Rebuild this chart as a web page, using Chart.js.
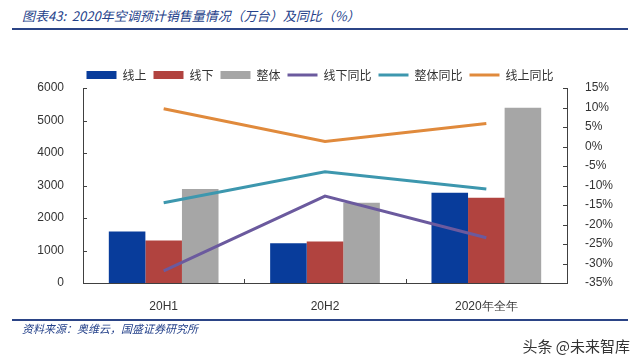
<!DOCTYPE html>
<html>
<head>
<meta charset="utf-8">
<script src="https://cdn.jsdelivr.net/npm/chart.js@4.4.0/dist/chart.umd.min.js"></script>
<style>
  body { margin: 0; background: #fff; }
  #wrap { position: relative; width: 640px; height: 357px; overflow: hidden; font-family: "Noto Sans CJK SC", sans-serif; }
  #c { position: absolute; left: 0; top: 0; }
  .title { position: absolute; left: 22px; top: 6px; font-size: 13px; font-style: italic; color: #24418a; white-space: nowrap; }
  .rule { position: absolute; left: 12px; width: 616px; height: 2px; background: #2b4486; }
  .src { position: absolute; left: 22px; top: 320px; font-size: 11px; font-style: italic; color: #24418a; white-space: nowrap; }
  .mark { position: absolute; right: 10px; top: 335px; font-size: 15px; color: #333; white-space: nowrap; }
</style>
</head>
<body>
<div id="wrap">
  <div class="title">图表43:&nbsp; 2020年空调预计销售量情况（万台）及同比（%）</div>
  <div class="rule" style="top:28px"></div>
  <canvas id="c" width="640" height="357"></canvas>
  <div class="rule" style="top:319px"></div>
  <div class="src">资料来源：奥维云，国盛证券研究所</div>
  <div class="mark">头条 @未来智库</div>
</div>
<script>
// data (万台 / %)
const categories = ["20H1", "20H2", "2020年全年"];
const online = [1585, 1220, 2775];
const offline = [1310, 1280, 2620];
const total = [2895, 2470, 5395];
const offlineYoY = [-31.9, -12.7, -23.4];
const totalYoY = [-14.4, -6.5, -10.9];
const onlineYoY = [9.7, 1.3, 5.9];
const leftTicks = [0, 1000, 2000, 3000, 4000, 5000, 6000];
const rightTicks = [-35, -30, -25, -20, -15, -10, -5, 0, 5, 10, 15];

const axisColor = "#404040";
const tickFont = { family: "Liberation Sans", size: 12 };

// push the chart area up under the legend
const legendHeight = {
    id: "legendHeight",
    beforeInit(chart) {
        const fit = chart.legend.fit;
        chart.legend.fit = function () {
            fit.bind(chart.legend)();
            this.height = 26;
        };
    }
};

// short inward tick marks like the original
const innerTicks = {
    id: "innerTicks",
    afterDraw(chart) {
        const { ctx, chartArea, scales } = chart;
        ctx.save();
        ctx.strokeStyle = axisColor;
        ctx.lineWidth = 1;
        ctx.beginPath();
        scales.y.ticks.forEach(t => {
            let py = Math.round(scales.y.getPixelForValue(t.value)) + 0.5;
            ctx.moveTo(chartArea.left, py);
            ctx.lineTo(chartArea.left + 4, py);
        });
        scales.y1.ticks.forEach(t => {
            let py = Math.round(scales.y1.getPixelForValue(t.value)) + 0.5;
            ctx.moveTo(chartArea.right, py);
            ctx.lineTo(chartArea.right - 4, py);
        });
        let step = (chartArea.right - chartArea.left) / categories.length;
        for (let i = 1; i < categories.length; i++) {
            let px = Math.round(chartArea.left + step * i) + 0.5;
            ctx.moveTo(px, chartArea.bottom);
            ctx.lineTo(px, chartArea.bottom - 4);
        }
        ctx.stroke();
        ctx.restore();
    }
};

function barSet(label, data, color) {
    return {
        type: "bar", label: label, data: data, yAxisID: "y",
        backgroundColor: color, borderWidth: 0, pointStyle: "rect",
        categoryPercentage: 0.68, barPercentage: 1.0, order: 1
    };
}
function lineSet(label, data, color) {
    return {
        type: "line", label: label, data: data, yAxisID: "y1",
        borderColor: color, backgroundColor: color, borderWidth: 3,
        pointRadius: 0, pointStyle: "line", tension: 0, order: 0
    };
}

var option = {
    data: {
        labels: categories,
        datasets: [
            barSet("线上", online, "#083c9b"),
            barSet("线下", offline, "#b1433f"),
            barSet("整体", total, "#a6a6a6"),
            lineSet("线下同比", offlineYoY, "#6b5a9e"),
            lineSet("整体同比", totalYoY, "#3d97ae"),
            lineSet("线上同比", onlineYoY, "#e08a3c")
        ]
    },
    options: {
        responsive: false,
        animation: false,
        layout: { padding: { top: 62, left: 0, right: 0, bottom: 0 } },
        plugins: {
            tooltip: { enabled: false },
            legend: {
                position: "top",
                labels: {
                    usePointStyle: true,
                    pointStyleWidth: 30,
                    boxHeight: 8,
                    padding: 7,
                    color: "#333",
                    font: { family: "Noto Sans CJK SC", size: 12 },
                    sort: (a, b) => a.datasetIndex - b.datasetIndex
                }
            }
        },
        scales: {
            x: {
                grid: { display: false },
                border: { display: true, color: axisColor },
                ticks: { color: "#333", font: tickFont, padding: 8 },
                afterFit: s => { s.height = 74; }
            },
            y: {
                position: "left",
                min: 0, max: 6000,
                afterBuildTicks: s => { s.ticks = leftTicks.map(v => ({ value: v })); },
                grid: { display: false },
                border: { display: true, color: axisColor },
                ticks: { color: "#333", font: tickFont, padding: 11, callback: v => String(v) },
                afterFit: s => { s.width = 83; }
            },
            y1: {
                position: "right",
                min: -35, max: 15,
                afterBuildTicks: s => { s.ticks = rightTicks.map(v => ({ value: v })); },
                grid: { display: false },
                border: { display: true, color: axisColor },
                ticks: { color: "#333", font: tickFont, padding: 10, callback: v => v + "%" },
                afterFit: s => { s.width = 73; }
            }
        }
    },
    plugins: [legendHeight, innerTicks]
};

var ctx = document.getElementById("c").getContext("2d");
var myChart = new Chart(ctx, option);
</script>
</body>
</html>
